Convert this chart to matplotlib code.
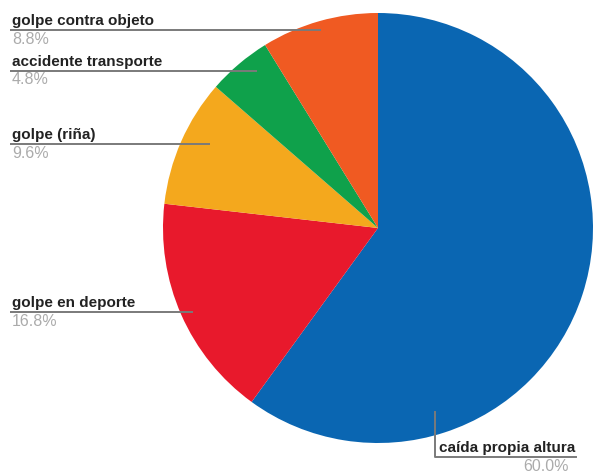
import matplotlib
matplotlib.use("Agg")
import matplotlib.pyplot as plt

plt.rcParams["font.family"] = ["Liberation Sans", "DejaVu Sans"]

# datos
categorias = ["caída propia altura", "golpe en deporte", "golpe (riña)",
              "accidente transporte", "golpe contra objeto"]
valores = [60.0, 16.8, 9.6, 4.8, 8.8]
colores = ["#0a66b2", "#e8192c", "#f4a81d", "#0fa14b", "#f05a22"]

# posiciones de etiquetas (pixeles): y de la línea, x final de la línea
etiq_y = [None, 312, 144, 71, 30]
linea_x_fin = [None, 193, 210, 257, 321]

W, H = 593, 475
fig = plt.figure(figsize=(W / 100, H / 100), dpi=100)
ax = fig.add_axes([0, 0, 1, 1])

cx, cy, r = 378, 228, 215
# eje y invertido: counterclock=True se ve en sentido horario
ax.pie(valores, colors=colores, startangle=-90, counterclock=True,
       center=(cx, cy), radius=r, frame=True,
       wedgeprops={"linewidth": 0})
ax.set_xlim(0, W)
ax.set_ylim(H, 0)
ax.set_aspect("equal")
ax.axis("off")

gris_linea = "#7a7a7a"
gris_texto = "#ababab"
negro = "#222222"

for i in range(1, len(categorias)):
    y = etiq_y[i]
    ax.plot([10, linea_x_fin[i]], [y, y], color=gris_linea, linewidth=1.4,
            solid_capstyle="butt")
    ax.text(12, y - 5, categorias[i], fontsize=11, fontweight="bold",
            color=negro, ha="left", va="baseline")
    ax.text(12, y + 1.5, "{:.1f}%".format(valores[i]), fontsize=11.5,
            color=gris_texto, ha="left", va="top")

# etiqueta de la porción grande
ax.plot([435, 435, 576], [412, 457, 457], color=gris_linea, linewidth=1.4)
ax.text(575, 452, categorias[0], fontsize=11, fontweight="bold",
        color=negro, ha="right", va="baseline")
ax.text(569, 459, "{:.1f}%".format(valores[0]), fontsize=11.5,
        color=gris_texto, ha="right", va="top")

fig.savefig("out.png", dpi=100)
